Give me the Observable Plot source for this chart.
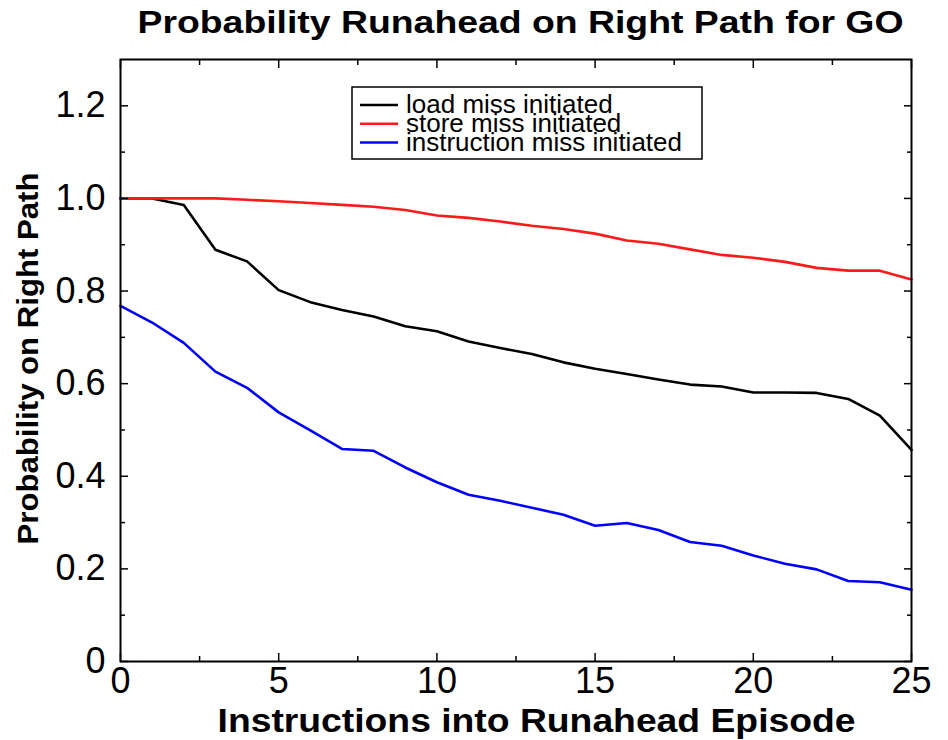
<!DOCTYPE html>
<html>
<head>
<meta charset="utf-8">
<script src="https://cdn.jsdelivr.net/npm/d3@7"></script>
<script src="https://cdn.jsdelivr.net/npm/@observablehq/plot@0.6"></script>
<style>
  html, body { margin: 0; padding: 0; background: #fff; }
  #chart { width: 948px; height: 740px; }
</style>
</head>
<body>
<div id="chart"></div>
<script>
const titleText = "Probability Runahead on Right Path for GO";
const xLabelText = "Instructions into Runahead Episode";
const yLabelText = "Probability on Right Path";

const instructions = [0,1,2,3,4,5,6,7,8,9,10,11,12,13,14,15,16,17,18,19,20,21,22,23,24,25];
const loadMiss = [1.000,1.000,0.986,0.889,0.864,0.802,0.776,0.759,0.745,0.724,0.713,0.691,0.677,0.664,0.646,0.632,0.621,0.609,0.598,0.594,0.581,0.581,0.580,0.567,0.531,0.457];
const storeMiss = [1.000,1.000,1.000,1.000,0.997,0.994,0.990,0.986,0.982,0.975,0.963,0.958,0.950,0.941,0.934,0.924,0.909,0.902,0.890,0.878,0.872,0.863,0.850,0.844,0.844,0.825];
const instrMiss = [0.768,0.732,0.688,0.626,0.591,0.538,0.499,0.459,0.455,0.419,0.387,0.360,0.347,0.332,0.317,0.293,0.299,0.284,0.258,0.250,0.229,0.211,0.199,0.174,0.171,0.155];

const seriesNames = ["load miss initiated", "store miss initiated", "instruction miss initiated"];
const seriesColors = ["#000000", "#ff1a1a", "#0000ff"];

const xMajorTicks = [0, 5, 10, 15, 20, 25];
const xMinorTicks = [2.5, 7.5, 12.5, 17.5, 22.5];
const yMajorTicks = [0, 0.2, 0.4, 0.6, 0.8, 1.0, 1.2];
const yMinorTicks = [0.1, 0.3, 0.5, 0.7, 0.9, 1.1];

const seriesValues = [loadMiss, storeMiss, instrMiss];
const rows = [];
seriesNames.forEach((name, s) => {
  instructions.forEach((x, i) => rows.push({series: name, x, y: seriesValues[s][i]}));
});

const font = "Liberation Sans, Arial, Helvetica, sans-serif";
const yFmt = d => d === 0 ? "0" : d.toFixed(1);

const chart = Plot.plot({
  width: 948,
  height: 740,
  marginLeft: 120,
  marginRight: 37,
  marginTop: 59,
  marginBottom: 79,
  style: {fontFamily: font, background: "#fff", color: "#000"},
  x: {domain: [0, 25]},
  y: {domain: [0, 1.3]},
  color: {domain: seriesNames, range: seriesColors},
  marks: [
    Plot.line(rows, {x: "x", y: "y", z: "series", stroke: "series", strokeWidth: 2.6}),
    Plot.axisY({ticks: yMajorTicks, tickSize: 0, tickPadding: 15, fontSize: 36, tickFormat: yFmt, label: null}),
    Plot.axisX({ticks: xMajorTicks, tickSize: 0, tickPadding: 6, fontSize: 36, tickFormat: d => String(d), label: null}),
    Plot.axisY({anchor: "left", ticks: yMajorTicks, tickSize: -8, text: null, label: null, strokeWidth: 1.5}),
    Plot.axisY({anchor: "left", ticks: yMinorTicks, tickSize: -5, text: null, label: null, strokeWidth: 1.5}),
    Plot.axisY({anchor: "right", ticks: yMajorTicks, tickSize: -8, text: null, label: null, strokeWidth: 1.5}),
    Plot.axisY({anchor: "right", ticks: yMinorTicks, tickSize: -5, text: null, label: null, strokeWidth: 1.5}),
    Plot.axisX({anchor: "bottom", ticks: xMajorTicks, tickSize: -8, text: null, label: null, strokeWidth: 1.5}),
    Plot.axisX({anchor: "bottom", ticks: xMinorTicks, tickSize: -5, text: null, label: null, strokeWidth: 1.5}),
    Plot.axisX({anchor: "top", ticks: xMajorTicks, tickSize: -8, text: null, label: null, strokeWidth: 1.5}),
    Plot.axisX({anchor: "top", ticks: xMinorTicks, tickSize: -5, text: null, label: null, strokeWidth: 1.5}),
    Plot.frame({stroke: "#000", strokeWidth: 2}),
    Plot.text([titleText], {frameAnchor: "top", dx: 4.5, dy: -37, fontSize: 32, fontWeight: "bold", lineAnchor: "middle", textAnchor: "middle", fill: "#000"}),
    Plot.text([xLabelText], {frameAnchor: "bottom", dx: 20.5, dy: 60, fontSize: 33, fontWeight: "bold", lineAnchor: "middle", textAnchor: "middle", fill: "#000"}),
    Plot.text([yLabelText], {frameAnchor: "left", dx: -92, dy: -2, rotate: -90, fontSize: 30, fontWeight: "bold", lineAnchor: "middle", textAnchor: "middle", fill: "#000"})
  ]
});

document.getElementById("chart").appendChild(chart);

const svg = d3.select(chart);
const stretch = {[titleText]: 766, [xLabelText]: 638, [yLabelText]: 372};
svg.selectAll("text").each(function() {
  const t = this.textContent;
  if (stretch[t]) {
    d3.select(this).attr("textLength", stretch[t]).attr("lengthAdjust", "spacingAndGlyphs");
  }
});

// legend
const leg = svg.append("g").attr("font-family", font).attr("font-size", 26).attr("text-anchor", "start");
leg.append("rect").attr("x", 352).attr("y", 87).attr("width", 350).attr("height", 72)
  .attr("fill", "#fff").attr("stroke", "#000").attr("stroke-width", 1.5);
seriesNames.forEach((name, i) => {
  const yLine = 105 + i * 18.8;
  leg.append("line").attr("x1", 360).attr("x2", 398).attr("y1", yLine).attr("y2", yLine)
    .attr("stroke", seriesColors[i]).attr("stroke-width", 2.5);
  leg.append("text").attr("x", 406).attr("y", 113 + i * 19.2).attr("fill", "#000")
    .attr("text-anchor", "start").text(name);
});
</script>
</body>
</html>
